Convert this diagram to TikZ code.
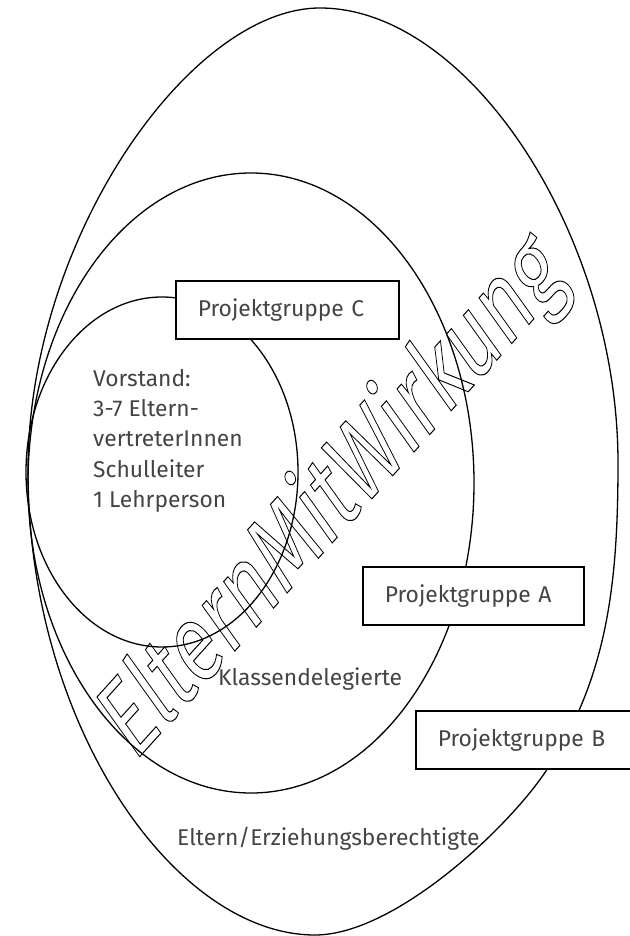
\documentclass[tikz,border=0pt]{standalone}
\usepackage{fontspec}
\setmainfont{Fira Sans}
\usepackage{xcolor}
\usepackage{tikz}
\usetikzlibrary{positioning}
\definecolor{txtgray}{HTML}{444444}
\newcommand{\outlinetext}[1]{\special{pdf:literal direct 1 Tr 1 w}#1\special{pdf:literal direct 0 Tr}}

\begin{document}
\begin{tikzpicture}[
    x=1pt, y=-1pt,
    ring/.style={line width=1.3pt},
    pbox/.style={draw, line width=1.6pt, fill=white, anchor=north west, minimum height=58pt, inner xsep=22pt, inner ysep=0pt, align=left, font=\fontsize{22.8}{26}\selectfont, text=txtgray},
    lbl/.style={anchor=base west, inner sep=0pt, font=\fontsize{22.8}{26}\selectfont, text=txtgray},
    big/.style={anchor=base west, inner sep=0pt, font=\fontsize{104}{110}\selectfont}
]
\useasboundingbox (0,0) rectangle (629,936);

\draw[ring] (320,8) .. controls (469,8) and (618,235) .. (618,463)
    .. controls (618,583) and (607.6,675.6) .. (548,768)
    .. controls (510,826.8) and (395,935) .. (315,935)
    .. controls (175,935) and (28,726) .. (28,470)
    .. controls (28,239) and (190,8) .. (320,8) -- cycle;
\draw[ring] (251,483) ellipse [x radius=223, y radius=310];
\draw[ring] (162,472) ellipse [x radius=136, y radius=175];

\node[pbox, text width=179pt] (pgc) at (175,280) {Projektgruppe C};
\node[pbox, text width=177pt] (pga) at (362,566) {Projektgruppe A};
\node[pbox, text width=200pt] (pgb) at (415,710) {Projektgruppe B};

\node[lbl, anchor=north west, align=left, font=\fontsize{22.8}{30.3}\selectfont] (vorstand) at (93,369) {Vorstand:\\3-7 Eltern-\\vertreterInnen\\Schulleiter\\1 Lehrperson};
\node[lbl] (klassen) at (218,685) {Klassendelegierte};
\node[lbl] (eltern) at (177,845) {Eltern/Erziehungsberechtigte};

\node[big, rotate=48, xslant=0.22, xscale=0.8] (emw) at (134,763) {\outlinetext{ElternMitWirkung}};

\end{tikzpicture}
\end{document}
